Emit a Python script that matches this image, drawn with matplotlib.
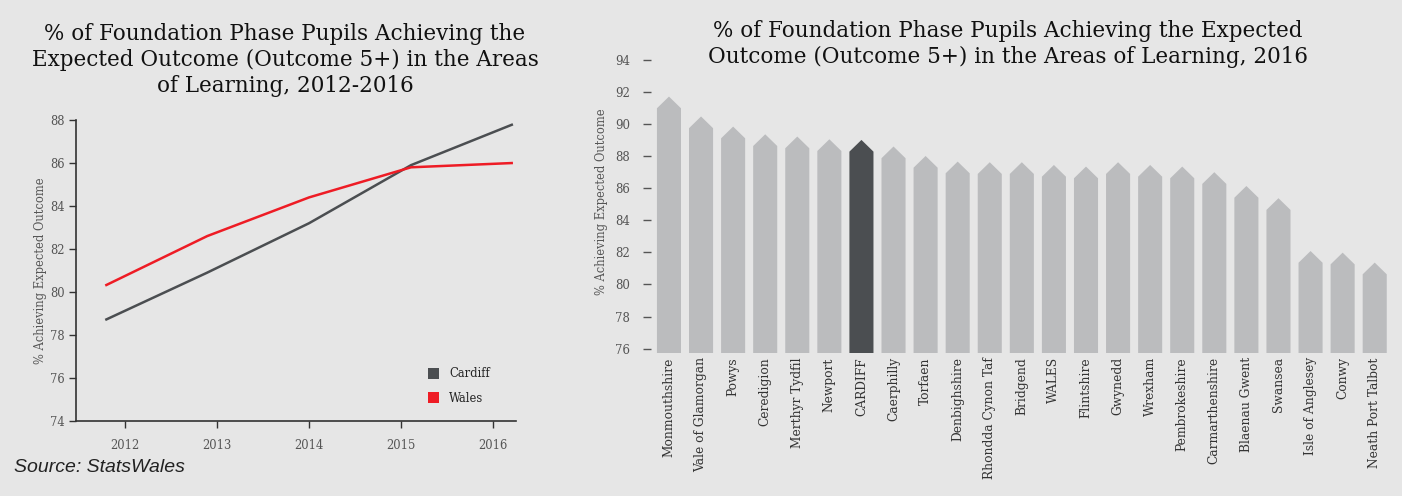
import matplotlib
matplotlib.use("Agg")
import matplotlib.pyplot as plt
from matplotlib.patches import Patch
import numpy as np

# ---------------- data ----------------
years = [2012, 2013, 2014, 2015, 2016]
cardiff = [78.7, 80.9, 83.2, 85.9, 87.8]
wales = [80.3, 82.6, 84.4, 85.8, 86.0]

areas = ["Monmouthshire", "Vale of Glamorgan", "Powys", "Ceredigion", "Merthyr Tydfil",
         "Newport", "CARDIFF", "Caerphilly", "Torfaen", "Denbighshire",
         "Rhondda Cynon Taf", "Bridgend", "WALES", "Flintshire", "Gwynedd",
         "Wrexham", "Pembrokeshire", "Carmarthenshire", "Blaenau Gwent", "Swansea",
         "Isle of Anglesey", "Conwy", "Neath Port Talbot"]
area_values = [90.97, 89.73, 89.10, 88.62, 88.48, 88.31, 88.27, 87.86, 87.27, 86.92,
               86.88, 86.88, 86.71, 86.61, 86.88, 86.71, 86.61, 86.26, 85.40, 84.64,
               81.35, 81.25, 80.63]

left_title = ("% of Foundation Phase Pupils Achieving the\n"
              "Expected Outcome (Outcome 5+) in the Areas\n"
              "of Learning, 2012-2016")
right_title = ("% of Foundation Phase Pupils Achieving the Expected\n"
               "Outcome (Outcome 5+) in the Areas of Learning, 2016")
ylabel = "% Achieving Expected Outcome"
source = "Source: StatsWales"

# ---------------- style ----------------
BG = "#e6e6e6"
DARK = "#4b4e51"
RED = "#ee1c25"
BAR = "#bbbcbe"
TXT = "#222222"
TICK = "#555555"
SERIF = "DejaVu Serif"

W, H = 1402, 496
fig = plt.figure(figsize=(W / 100, H / 100), dpi=100, facecolor=BG)

def px_axes(x0, y0, x1, y1):
    return fig.add_axes([x0 / W, 1 - y1 / H, (x1 - x0) / W, (y1 - y0) / H])

# ---------------- left line chart ----------------
ax1 = px_axes(76, 120, 516, 421)
ax1.set_facecolor(BG)
idx = np.arange(len(years))
ax1.plot(idx, cardiff, color=DARK, lw=1.8, solid_capstyle="butt")
ax1.plot(idx, wales, color=RED, lw=1.8, solid_capstyle="butt")
ax1.set_xlim(-0.287, 4.03)
ax1.set_ylim(74, 88)
ax1.set_yticks(np.arange(74, 89, 2))
tick_pos = [2.0 + (y - 2014) * 0.902 for y in years]
ax1.set_xticks(tick_pos)
ax1.set_xticklabels([str(y) for y in years])
for s in ["top", "right"]:
    ax1.spines[s].set_visible(False)
for s in ["left", "bottom"]:
    ax1.spines[s].set_color("#333333")
    ax1.spines[s].set_linewidth(1.2)
ax1.tick_params(axis="both", colors="#333333", labelcolor=TICK, labelsize=8.3, length=5, width=1)
ax1.tick_params(axis="x", pad=8)
ax1.tick_params(axis="y", pad=3)
for lab in ax1.get_xticklabels() + ax1.get_yticklabels():
    lab.set_family(SERIF)
ax1.set_ylabel(ylabel, family=SERIF, fontsize=8.3, color=TICK, labelpad=2)
handles = [Patch(facecolor=DARK, label="Cardiff"), Patch(facecolor=RED, label="Wales")]
leg = ax1.legend(handles=handles, loc="lower right", bbox_to_anchor=(0.964, 0.02),
                 frameon=False, prop={"family": SERIF, "size": 8.3},
                 handlelength=0.9, handleheight=1.1, labelspacing=1.0, handletextpad=0.9)
for t in leg.get_texts():
    t.set_color(TXT)

fig.text(285 / W, 1 - 60 / H, left_title, ha="center", va="center",
         family=SERIF, fontsize=15.5, color="#111111", linespacing=1.25)
fig.text(14 / W, 1 - 467 / H, source, ha="left", va="center",
         family="Liberation Sans", style="italic", fontsize=14, color="#222222")

# ---------------- right bar chart ----------------
ax2 = px_axes(651, 50, 1393, 353)
ax2.set_facecolor(BG)
x = np.arange(len(areas))
bw = 0.75
head = 0.73
base = 75.73
colors = [DARK if a == "CARDIFF" else BAR for a in areas]
for xi, v, c in zip(x, area_values, colors):
    ax2.fill([xi - bw / 2, xi - bw / 2, xi, xi + bw / 2, xi + bw / 2],
             [base, v, v + head, v, base], color=c, linewidth=0)
ax2.set_xlim(-0.56, 22.57)
ax2.set_ylim(base, 94.6)
ax2.set_yticks(np.arange(76, 95, 2))
ax2.set_xticks(x)
ax2.set_xticklabels(areas, rotation=90, family=SERIF, fontsize=8.8, color="#333333")
for s in ax2.spines.values():
    s.set_visible(False)
ax2.tick_params(axis="x", length=0, pad=3)
ax2.tick_params(axis="y", colors="#555555", labelcolor=TICK, labelsize=8.5, length=6, width=1, pad=9)
for lab in ax2.get_yticklabels():
    lab.set_family(SERIF)
ax2.set_ylabel(ylabel, family=SERIF, fontsize=8.3, color=TICK, labelpad=5)

fig.text(1008 / W, 1 - 44 / H, right_title, ha="center", va="center",
         family=SERIF, fontsize=15.5, color="#111111", linespacing=1.25)

fig.savefig("out.png", dpi=100, facecolor=BG)
